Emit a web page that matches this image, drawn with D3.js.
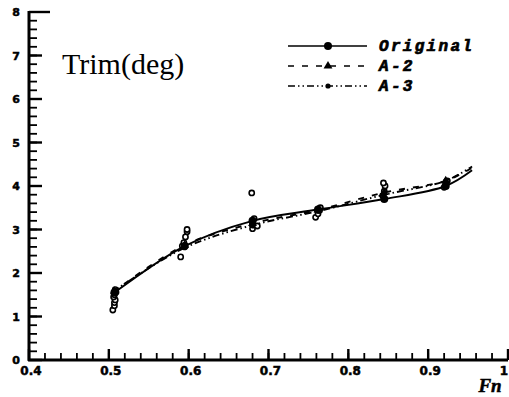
<!DOCTYPE html>
<html lang="en">
<head>
<meta charset="utf-8">
<title>Trim</title>
<script src="https://cdn.jsdelivr.net/npm/d3@7"></script>
<style>
  body { margin: 0; background: #fff; }
  svg { display: block; }
</style>
</head>
<body>
<script>
// Froude numbers where the curves carry markers
var fnMarks = [0.507, 0.595, 0.68, 0.762, 0.845, 0.922];
// curve stations (first / last are the curve ends)
var curveFn  = [0.505, 0.507, 0.595, 0.68, 0.762, 0.845, 0.922, 0.955];
var original = [1.52, 1.55, 2.62, 3.2, 3.46, 3.7, 4.0, 4.36];
var a2       = [1.55, 1.58, 2.64, 3.14, 3.45, 3.85, 4.12, 4.42];
var a3       = [1.58, 1.6, 2.58, 3.1, 3.42, 3.8, 4.12, 4.45];
// experiment points (open circles)
var expFn  = [0.505, 0.507, 0.507, 0.508, 0.506, 0.507, 0.509, 0.508,
              0.59, 0.592, 0.594, 0.596, 0.598, 0.598,
              0.679, 0.68, 0.681, 0.68, 0.682, 0.686,
              0.759, 0.762, 0.764, 0.765,
              0.843, 0.845, 0.846, 0.844,
              0.92, 0.922, 0.924];
var expVal = [1.15, 1.25, 1.32, 1.38, 1.45, 1.5, 1.56, 1.62,
              2.37, 2.62, 2.7, 2.83, 2.95, 3.0,
              3.84, 3.02, 3.1, 3.18, 3.25, 3.08,
              3.28, 3.36, 3.44, 3.5,
              3.78, 3.88, 4.0, 4.07,
              3.97, 4.05, 4.12];
var xTicks = [0.4, 0.5, 0.6, 0.7, 0.8, 0.9, 1];
var yTicks = [0, 1, 2, 3, 4, 5, 6, 7, 8];

var w = 509, h = 397;
var svg = d3.select("body").append("svg").attr("width", w).attr("height", h);

var x = d3.scaleLinear().domain([0.4, 1]).range([29, 508]);
var y = d3.scaleLinear().domain([0, 8]).range([360, 12]);

// minor ticks
var xMinor = d3.range(0.4, 1.001, 0.02);
var yMinor = d3.range(0, 8.001, 0.2);
svg.append("g").selectAll("line").data(xMinor).enter().append("line")
  .attr("x1", d => x(d)).attr("x2", d => x(d))
  .attr("y1", 360).attr("y2", 353)
  .attr("stroke", "#000").attr("stroke-width", 1.8);
svg.append("g").selectAll("line").data(xTicks).enter().append("line")
  .attr("x1", d => x(d)).attr("x2", d => x(d))
  .attr("y1", 360).attr("y2", 349)
  .attr("stroke", "#000").attr("stroke-width", 2.4);
svg.append("g").selectAll("line").data(yMinor).enter().append("line")
  .attr("x1", 29).attr("x2", 37)
  .attr("y1", d => y(d)).attr("y2", d => y(d))
  .attr("stroke", "#000").attr("stroke-width", 1.8);
svg.append("g").selectAll("line").data(yTicks).enter().append("line")
  .attr("x1", 29).attr("x2", d => d == 8 ? 50 : 42)
  .attr("y1", d => y(d)).attr("y2", d => y(d))
  .attr("stroke", "#000").attr("stroke-width", 2.4);

// axis lines
svg.append("line").attr("x1", 29).attr("x2", 29).attr("y1", 11).attr("y2", 361)
  .attr("stroke", "#000").attr("stroke-width", 3);
svg.append("line").attr("x1", 28).attr("x2", 508).attr("y1", 360).attr("y2", 360)
  .attr("stroke", "#000").attr("stroke-width", 3);

// tick labels
svg.append("g").selectAll("text").data(yTicks).enter().append("text")
  .attr("x", 20).attr("y", d => y(d) + 4)
  .attr("text-anchor", "end")
  .attr("stroke", "#000").attr("stroke-width", 0.5)
  .style("font", "bold 11px 'DejaVu Sans'")
  .text(d => d);
svg.append("g").selectAll("text").data(xTicks).enter().append("text")
  .attr("x", d => d == 1 ? 504 : x(d) + 2).attr("y", 375)
  .attr("text-anchor", "middle")
  .attr("stroke", "#000").attr("stroke-width", 0.5)
  .style("font", "bold 12px 'DejaVu Sans'")
  .text(d => d == 1 ? "1" : d.toFixed(1));

svg.append("text").attr("x", 490).attr("y", 392).attr("text-anchor", "middle")
  .attr("stroke", "#000").attr("stroke-width", 0.5)
  .style("font", "italic bold 19px 'Liberation Serif'").text("Fn");
svg.append("text").attr("x", 62).attr("y", 74)
  .style("font", "30px 'Liberation Serif'").text("Trim(deg)");

// experiment circles
svg.append("g").selectAll("circle").data(expVal).enter().append("circle")
  .attr("cx", (d, i) => x(expFn[i])).attr("cy", d => y(d)).attr("r", 2.6)
  .attr("fill", "#fff").attr("stroke", "#000").attr("stroke-width", 1.6);

var series = [
  {name: "Original", vals: original, dash: null, mark: "circle"},
  {name: "A-2", vals: a2, dash: "6,8", mark: "triangle"},
  {name: "A-3", vals: a3, dash: "7,3,1.5,3,1.5,3", mark: "dot"}
];
var line = d3.line().curve(d3.curveCatmullRom.alpha(0.5))
  .x(d => x(d[0])).y(d => y(d[1]));

series.forEach(function(s) {
  svg.append("path")
    .attr("d", line(curveFn.map((f, i) => [f, s.vals[i]])))
    .attr("fill", "none").attr("stroke", "#000").attr("stroke-width", 1.9)
    .attr("stroke-dasharray", s.dash);
  var pts = fnMarks.map(f => [f, s.vals[curveFn.indexOf(f)]]);
  drawMarks(svg.append("g"), pts.map(p => [x(p[0]), y(p[1])]), s.mark);
});

function drawMarks(g, pts, kind) {
  if (kind == "triangle") {
    g.selectAll("path").data(pts).enter().append("path")
      .attr("d", d3.symbol().type(d3.symbolTriangle).size(34))
      .attr("transform", d => "translate(" + d[0] + "," + d[1] + ")")
      .attr("fill", "#000");
  } else {
    g.selectAll("circle").data(pts).enter().append("circle")
      .attr("cx", d => d[0]).attr("cy", d => d[1])
      .attr("r", kind == "circle" ? 4 : 2.6).attr("fill", "#000");
  }
}

// legend
var legY = [46, 66, 86];
series.forEach(function(s, i) {
  var g = svg.append("g");
  g.append("line").attr("x1", 288).attr("x2", 367)
    .attr("y1", legY[i]).attr("y2", legY[i])
    .attr("stroke", "#000").attr("stroke-width", 1.6)
    .attr("stroke-dasharray", s.dash);
  drawMarks(g, [[328, legY[i]]], s.mark);
  g.append("text").attr("x", 379).attr("y", legY[i] + 5)
    .attr("stroke", "#000").attr("stroke-width", 0.7)
    .style("font", "italic bold 16px 'Liberation Mono'")
    .style("letter-spacing", "2.3px")
    .text(s.name);
});
</script>
</body>
</html>
